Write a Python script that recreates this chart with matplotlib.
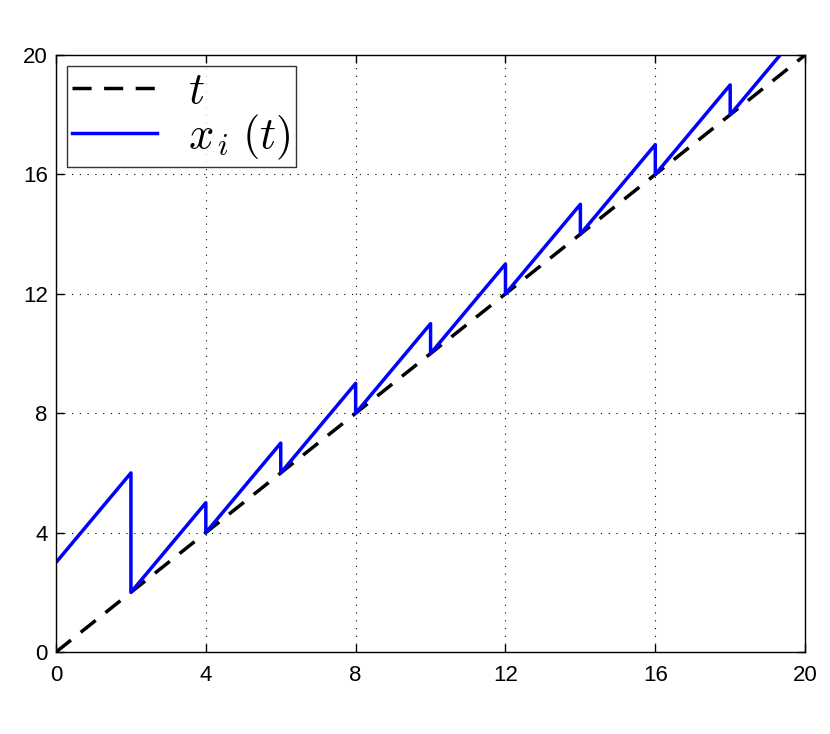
import matplotlib
matplotlib.use("Agg")
import matplotlib.pyplot as plt

# data
t_line = [0, 20]
x_vals = [3, 6, 2, 5, 4, 7, 6, 9, 8, 11, 10, 13, 12, 15, 14, 17, 16, 19, 18, 20]
x_times = [0, 2, 2, 4, 4, 6, 6, 8, 8, 10, 10, 12, 12, 14, 14, 16, 16, 18, 18, 19.333]
ticks = [0, 4, 8, 12, 16, 20]

plt.rcParams['mathtext.fontset'] = 'cm'
plt.rcParams['font.family'] = ['Liberation Sans', 'DejaVu Sans']

fig = plt.figure(figsize=(8.3, 7.34), dpi=100)
ax = fig.add_axes([0.0675, 0.1117, 0.9025, 0.8133])

ax.plot(t_line, t_line, color='black', linestyle=(0, (5.5, 3.6)), linewidth=2.5, label=r'$t$')
ax.plot(x_times, x_vals, color='#0000ff', linewidth=2.5, label=r'$x_{\,i}\;(t)$')

ax.set_xlim(0, 20)
ax.set_ylim(0, 20)
ax.set_xticks(ticks)
ax.set_yticks(ticks)
ax.tick_params(direction='in', top=True, right=True, labelsize=16, length=6, width=1)
ax.tick_params(axis='x', pad=9)
ax.tick_params(axis='y', pad=6)
ax.grid(True, color='black', linestyle=(0, (1, 6)), linewidth=0.8)
for s in ax.spines.values():
    s.set_linewidth(1.0)

leg = ax.legend(loc='upper left', fontsize=32, frameon=True, fancybox=False, edgecolor='black',
                handlelength=1.9, borderpad=0.12, labelspacing=0.0, handletextpad=0.7,
                borderaxespad=0.25)
leg.get_frame().set_linewidth(1.0)

fig.savefig('out.png', dpi=100)
